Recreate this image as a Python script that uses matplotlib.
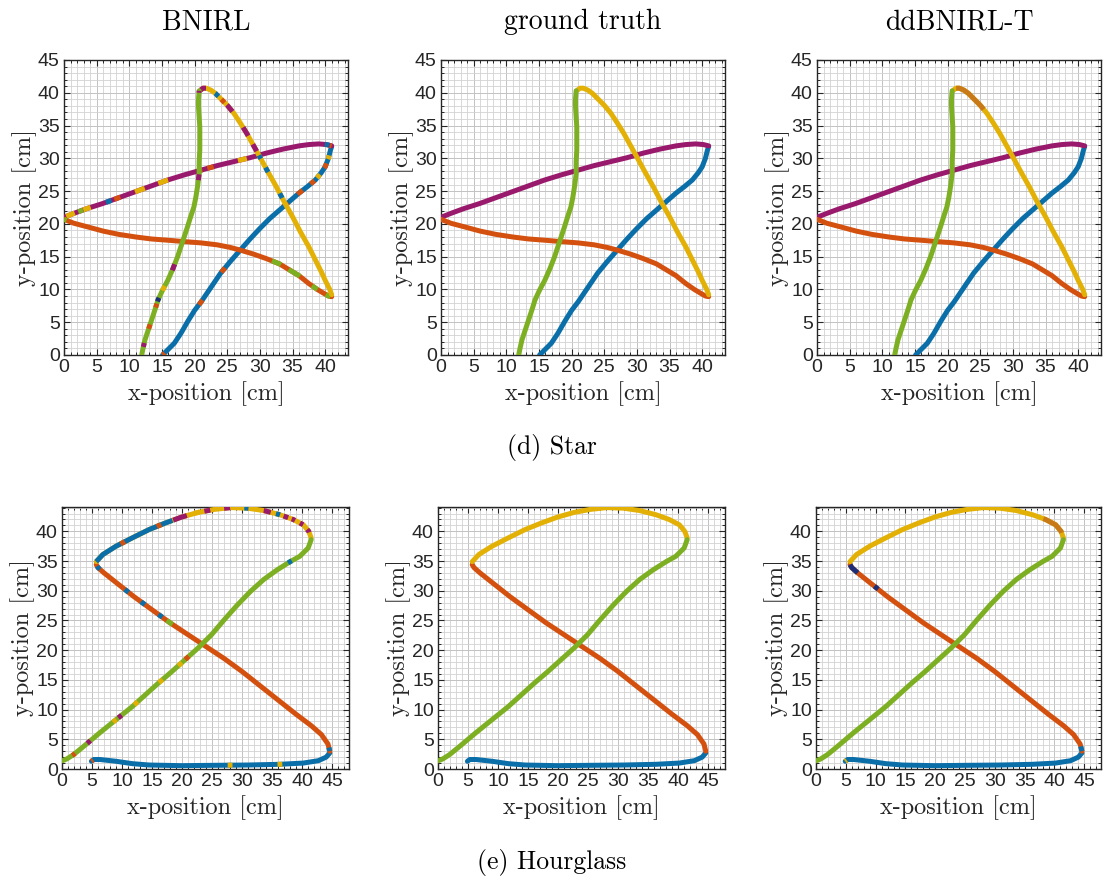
import numpy as np
import matplotlib
matplotlib.use("Agg")
import matplotlib.pyplot as plt
from matplotlib.ticker import MultipleLocator

plt.rcParams["font.family"] = ["Liberation Sans", "DejaVu Sans"]

# ---------------- colours ----------------
BLUE = "#0A6EA8"
ORANGE = "#D4500F"
YELLOW = "#E3B106"
PURPLE = "#99196C"
GREEN = "#7DAF22"
NAVY = "#1E2F78"
BROWN = "#C97A18"

# ---------------- data: star trajectory (cm) ----------------
star_blue = [(15.1, 0.0), (15.9, 0.8), (16.9, 1.8), (17.9, 3.3), (19.0, 5.2), (20.0, 6.8),
             (21.0, 8.1), (22.5, 10.3), (24.0, 12.5), (25.5, 14.3), (27.0, 16.0), (28.5, 17.7),
             (30.0, 19.3), (31.5, 20.8), (33.0, 22.1), (34.5, 23.4), (36.0, 24.7), (37.3, 25.7),
             (38.5, 26.7), (39.4, 27.8), (40.0, 28.7), (40.5, 30.0), (40.8, 31.2), (41.0, 31.8)]
star_purple = [(41.0, 31.9), (40.2, 32.1), (39.0, 32.2), (37.5, 32.1), (36.0, 31.9), (33.5, 31.4),
               (31.0, 30.8), (28.5, 30.1), (26.0, 29.5), (23.5, 28.9), (21.0, 28.2), (18.5, 27.5),
               (15.9, 26.7), (13.4, 25.8), (10.9, 24.9), (8.4, 24.0), (5.9, 23.1), (3.4, 22.3),
               (1.5, 21.6), (0.0, 21.0)]
star_orange = [(0.0, 20.7), (1.5, 20.1), (3.4, 19.6), (6.0, 18.9), (8.4, 18.4), (11.0, 18.0),
               (13.4, 17.7), (16.0, 17.5), (18.4, 17.3), (21.0, 17.1), (23.5, 16.8), (25.5, 16.4),
               (27.0, 16.0), (29.0, 15.4), (31.0, 14.7), (33.0, 13.9), (34.5, 13.0), (36.0, 12.1),
               (37.5, 10.9), (38.8, 10.0), (39.8, 9.4), (40.5, 9.0), (41.0, 8.9)]
star_yellow = [(41.0, 9.2), (40.7, 10.0), (40.0, 11.4), (39.5, 12.5), (38.5, 14.5), (37.5, 16.5),
               (36.2, 18.8), (35.0, 21.1), (33.7, 23.4), (32.5, 25.7), (31.2, 28.0), (30.0, 30.2),
               (29.0, 32.0), (28.0, 33.8), (27.0, 35.4), (26.0, 36.9), (25.0, 38.1), (24.0, 39.1),
               (23.2, 39.9), (22.5, 40.4), (21.8, 40.7), (21.3, 40.7), (20.9, 40.4)]
star_green = [(20.7, 40.3), (20.6, 39.0), (20.6, 37.9), (20.7, 36.3), (20.8, 34.8), (20.8, 33.0),
              (20.8, 31.3), (20.7, 29.5), (20.7, 27.7), (20.5, 26.0), (20.2, 24.1), (19.9, 22.6),
              (19.4, 21.1), (18.9, 19.5), (18.4, 18.0), (17.9, 16.5), (17.4, 15.0), (16.7, 13.2),
              (15.9, 11.4), (15.1, 9.9), (14.4, 8.4), (13.9, 6.8), (13.4, 5.3), (12.9, 3.8),
              (12.4, 2.3), (12.1, 1.0), (11.9, 0.0)]
star_strokes = [(star_blue, BLUE), (star_purple, PURPLE), (star_orange, ORANGE),
                (star_yellow, YELLOW), (star_green, GREEN)]

# ---------------- data: hourglass trajectory (cm) ----------------
hg_blue = [(4.9, 1.3), (5.3, 1.6), (6.3, 1.6), (9.0, 1.3), (11.7, 0.9), (14.5, 0.67), (19.9, 0.56),
           (25.4, 0.62), (30.9, 0.67), (36.3, 0.79), (40.2, 1.0), (42.7, 1.4), (44.0, 2.0), (44.6, 2.7)]
hg_orange = [(44.6, 3.0), (44.3, 4.2), (43.2, 5.8), (41.5, 7.3), (39.0, 9.2), (36.0, 11.6),
             (33.0, 14.0), (30.0, 16.4), (27.0, 18.6), (24.0, 20.6), (21.0, 22.6), (18.0, 24.6),
             (15.0, 26.8), (12.0, 29.0), (9.0, 31.4), (7.0, 33.0), (6.0, 33.9), (5.7, 34.4)]
hg_yellow = [(5.7, 34.9), (6.8, 36.1), (9.0, 37.5), (11.7, 38.9), (14.5, 40.3), (17.2, 41.4),
             (19.9, 42.4), (22.7, 43.2), (25.4, 43.7), (28.1, 44.0), (30.9, 43.9), (33.6, 43.5),
             (36.3, 42.8), (38.5, 42.0), (40.2, 41.1), (41.1, 40.0), (41.5, 38.9)]
hg_green = [(41.5, 38.6), (41.0, 37.2), (39.6, 35.8), (38.0, 34.9), (35.8, 33.5), (33.6, 31.9),
            (31.4, 29.9), (29.2, 27.6), (27.0, 25.1), (24.9, 22.6), (22.7, 20.4), (20.5, 18.4),
            (18.3, 16.4), (16.1, 14.5), (13.9, 12.5), (11.7, 10.5), (9.0, 8.3), (6.3, 6.1),
            (3.6, 3.8), (1.9, 2.4), (0.8, 1.7), (0.1, 1.4)]
hg_strokes = [(hg_blue, BLUE), (hg_orange, ORANGE), (hg_yellow, YELLOW), (hg_green, GREEN)]

# ---------------- segment labels: (stroke, x, y, length, colour) ----------------
bnirl_star_dashes = [
    (0, 15.2, 0.1, 0.6, ORANGE), (0, 21.1, 7.9, 0.9, ORANGE), (0, 24.7, 12.7, 0.9, ORANGE),
    (0, 33.8, 23.2, 0.8, ORANGE), (0, 36.1, 24.9, 1.0, ORANGE), (0, 38.0, 26.4, 0.8, ORANGE),
    (0, 38.8, 27.4, 0.7, YELLOW), (0, 39.7, 29.0, 0.8, ORANGE), (0, 40.4, 30.2, 0.6, YELLOW),
    (1, 41.0, 31.9, 0.6, ORANGE), (1, 40.3, 32.1, 0.7, BLUE), (1, 27.3, 29.9, 1.4, YELLOW),
    (1, 22.4, 28.7, 1.0, ORANGE), (1, 20.8, 28.2, 0.8, ORANGE), (1, 15.2, 26.4, 1.6, YELLOW),
    (1, 11.6, 25.2, 1.6, YELLOW), (1, 8.1, 24.1, 1.0, ORANGE), (1, 6.7, 23.8, 0.9, BLUE),
    (1, 3.5, 22.4, 1.2, YELLOW), (1, 2.5, 22.1, 0.8, GREEN), (1, 0.9, 21.6, 1.4, YELLOW),
    (1, 0.1, 21.0, 0.4, PURPLE),
    (2, 0.2, 20.7, 0.5, GREEN), (2, 32.6, 14.2, 1.5, GREEN), (2, 35.3, 12.6, 2.0, GREEN),
    (2, 38.7, 10.7, 1.0, GREEN), (2, 40.5, 9.1, 0.8, GREEN), (2, 41.0, 8.9, 0.4, ORANGE),
    (3, 33.4, 24.4, 0.8, BLUE), (3, 31.0, 28.2, 0.8, BLUE), (3, 30.0, 30.2, 0.6, BLUE),
    (3, 29.2, 31.6, 1.2, PURPLE), (3, 27.7, 34.0, 1.5, PURPLE), (3, 25.2, 37.5, 1.3, PURPLE),
    (3, 24.2, 38.6, 0.7, ORANGE), (3, 23.3, 39.6, 0.7, BLUE), (3, 21.3, 40.7, 0.9, PURPLE),
    (4, 20.7, 40.3, 0.6, PURPLE), (4, 20.8, 27.1, 0.9, PURPLE), (4, 16.7, 13.4, 1.0, PURPLE),
    (4, 15.2, 10.2, 0.8, YELLOW), (4, 14.5, 8.4, 0.6, NAVY), (4, 14.2, 7.5, 0.6, ORANGE),
    (4, 13.2, 4.3, 0.7, ORANGE), (4, 12.4, 1.5, 0.6, PURPLE),
]
dd_star_dashes = [
    (3, 23.5, 39.3, 5.5, BROWN),
]
bnirl_hg_spans = [  # (stroke, xa, ya, xb, yb, colour)
    (2, 5.7, 34.9, 18.3, 42.1, BLUE),
]
bnirl_hg_dashes = [
    (0, 4.9, 1.3, 0.7, ORANGE), (0, 28.0, 0.56, 0.8, YELLOW), (0, 36.3, 0.8, 0.8, YELLOW),
    (1, 44.5, 3.3, 0.6, BLUE), (1, 18.0, 24.8, 1.2, GREEN), (1, 16.7, 26.2, 0.8, BLUE),
    (1, 13.9, 28.5, 0.8, BLUE), (1, 11.2, 30.5, 0.8, BLUE), (1, 6.0, 33.8, 0.7, BLUE),
    (2, 10.1, 38.1, 0.8, ORANGE), (2, 16.1, 41.1, 0.8, ORANGE),
    (2, 19.6, 42.4, 2.4, PURPLE), (2, 22.5, 43.2, 0.8, YELLOW), (2, 24.2, 43.5, 1.0, PURPLE),
    (2, 27.5, 43.9, 1.0, PURPLE), (2, 30.7, 43.9, 0.7, BLUE), (2, 34.2, 43.4, 1.2, PURPLE),
    (2, 36.0, 43.0, 0.7, BLUE), (2, 37.3, 42.5, 0.8, PURPLE), (2, 38.5, 41.9, 0.6, PURPLE),
    (2, 39.8, 41.1, 0.6, PURPLE), (2, 40.8, 39.9, 0.6, PURPLE),
    (3, 37.8, 35.1, 0.7, BLUE), (3, 20.8, 18.7, 0.8, ORANGE), (3, 19.7, 17.6, 0.8, YELLOW),
    (3, 16.7, 14.5, 0.8, YELLOW), (3, 12.3, 11.1, 0.8, YELLOW), (3, 9.6, 8.9, 0.7, PURPLE),
    (3, 8.7, 8.2, 0.7, YELLOW), (3, 4.6, 4.4, 0.7, PURPLE), (3, 1.9, 2.5, 0.6, ORANGE),
]
dd_hg_dashes = [
    (0, 4.9, 1.3, 0.6, YELLOW), (1, 44.5, 3.3, 1.0, BLUE), (1, 6.4, 34.0, 2.2, NAVY),
    (1, 10.4, 30.9, 0.8, NAVY), (2, 39.8, 41.0, 4.0, BROWN),
]

titles = ["BNIRL", "ground truth", "ddBNIRL-T"]
captions = ["(d) Star", "(e) Hourglass"]
xlabel = "x-position [cm]"
ylabel = "y-position [cm]"

# ---------------- figure ----------------
W, H = 1103, 886
fig = plt.figure(figsize=(W / 100, H / 100), dpi=100)
SERIF = "cmr10"
TXT = "#262626"
LW = 3.6


def make_ax(l, t, r, b):
    return fig.add_axes([l / W, 1 - b / H, (r - l) / W, (b - t) / H])


def style(ax, xlim, ylim):
    ax.set_xlim(*xlim)
    ax.set_ylim(*ylim)
    ax.xaxis.set_major_locator(MultipleLocator(5))
    ax.yaxis.set_major_locator(MultipleLocator(5))
    ax.xaxis.set_minor_locator(MultipleLocator(1))
    ax.yaxis.set_minor_locator(MultipleLocator(1))
    ax.grid(which="major", color="#c2c2c2", lw=0.7)
    ax.grid(which="minor", color="#d2d2d2", lw=0.6)
    ax.set_axisbelow(True)
    ax.tick_params(which="both", direction="in", top=True, right=True, colors=TXT,
                   labelsize=14, pad=3)
    ax.tick_params(which="major", length=4, width=0.8)
    ax.tick_params(which="minor", length=2.5, width=0.7)
    for s in ax.spines.values():
        s.set_color(TXT)
        s.set_linewidth(1.0)
    ax.set_xlabel(xlabel, family=SERIF, fontsize=17.5, color=TXT, labelpad=4)
    ax.set_ylabel(ylabel, family=SERIF, fontsize=17.5, color=TXT, labelpad=1)


def arclen(pts):
    p = np.asarray(pts, float)
    d = np.hypot(*np.diff(p, axis=0).T)
    return p, np.concatenate([[0.0], np.cumsum(d)])


def sub_path(pts, s0, s1):
    p, s = arclen(pts)
    s0, s1 = max(s0, 0), min(s1, s[-1])
    ss = np.concatenate([[s0], s[(s > s0) & (s < s1)], [s1]])
    return np.interp(ss, s, p[:, 0]), np.interp(ss, s, p[:, 1])


def locate(pts, x, y):
    p, s = arclen(pts)
    fine = np.linspace(0, s[-1], 2000)
    fx, fy = np.interp(fine, s, p[:, 0]), np.interp(fine, s, p[:, 1])
    return fine[np.argmin((fx - x) ** 2 + (fy - y) ** 2)]


def draw(ax, strokes, dashes=(), spans=()):
    for k, (pts, c) in enumerate(strokes):
        xs, ys = zip(*pts)
        ax.plot(xs, ys, color=c, lw=LW, solid_capstyle="round", solid_joinstyle="round", zorder=3)
        for (si, xa, ya, xb, yb, cc) in spans:
            if si == k:
                sa, sb = sorted((locate(pts, xa, ya), locate(pts, xb, yb)))
                sx, sy = sub_path(pts, sa, sb)
                ax.plot(sx, sy, color=cc, lw=LW, solid_capstyle="butt", zorder=3)
        for (si, x, y, L, cc) in dashes:
            if si == k:
                s0 = locate(pts, x, y)
                sx, sy = sub_path(pts, s0 - L / 2, s0 + L / 2)
                ax.plot(sx, sy, color=cc, lw=LW, solid_capstyle="butt", zorder=3)


top_boxes = [(64, 60, 348, 355), (441, 60, 725, 355), (817, 60, 1101, 355)]
bot_boxes = [(62, 507, 349, 769), (438, 507, 725, 769), (816, 507, 1101, 769)]
star_d = [bnirl_star_dashes, [], dd_star_dashes]
hg_d = [bnirl_hg_dashes, [], dd_hg_dashes]
hg_s = [bnirl_hg_spans, [], []]

for i in range(3):
    ax = make_ax(*top_boxes[i])
    style(ax, (0, 43.5), (0, 45))
    draw(ax, star_strokes, star_d[i])
    ax.set_title(titles[i], family=SERIF, fontsize=20, color="black", pad=22)

    ax2 = make_ax(*bot_boxes[i])
    style(ax2, (0, 47.8), (0, 44.1))
    draw(ax2, hg_strokes, hg_d[i], hg_s[i])

fig.text(552 / W, 1 - 447 / H, captions[0], family=SERIF, fontsize=18.5, ha="center", va="center")
fig.text(552 / W, 1 - 862 / H, captions[1], family=SERIF, fontsize=18.5, ha="center", va="center")

fig.savefig("out.png", dpi=100)
